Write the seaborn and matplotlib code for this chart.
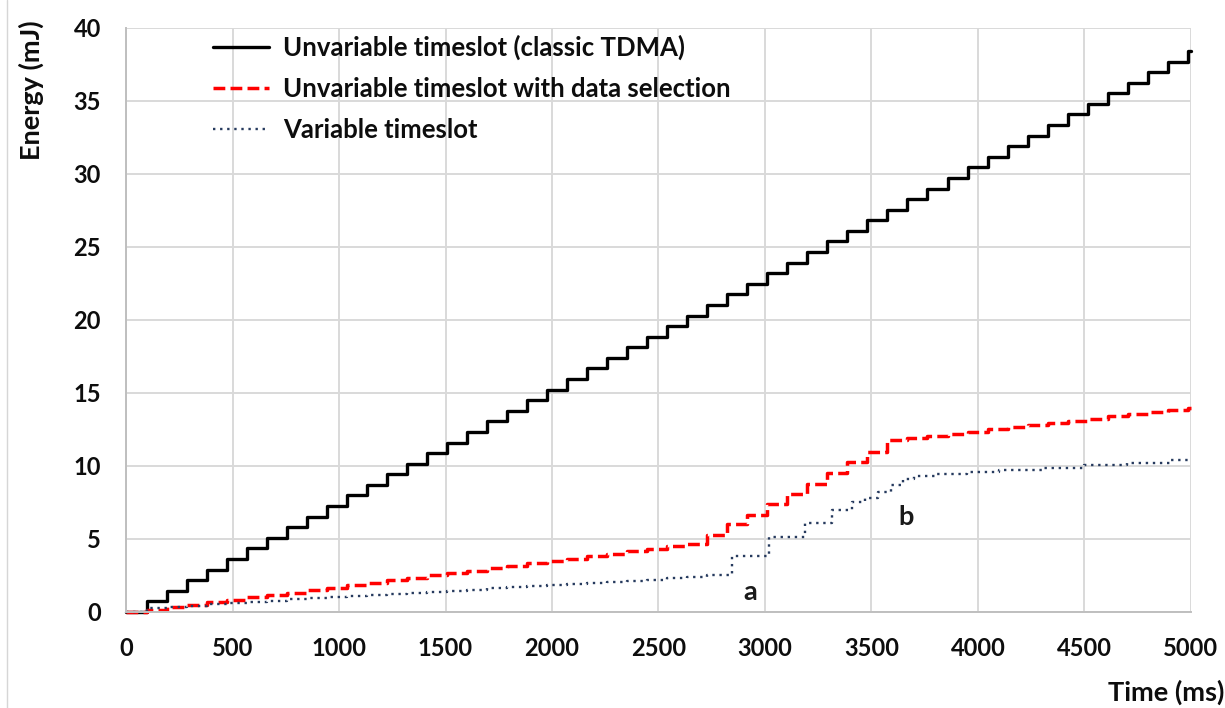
import matplotlib
matplotlib.use("Agg")
import matplotlib.pyplot as plt
import seaborn as sns
from matplotlib.lines import Line2D

# ---------------- data ----------------
slot_times = [0, 97, 191, 285, 379, 473, 567, 661, 755, 849, 943, 1037, 1131, 1225,
              1319, 1413, 1507, 1601, 1695, 1789, 1883, 1977, 2071, 2165, 2259, 2353,
              2447, 2541, 2635, 2729, 2823, 2917, 3011, 3105, 3199, 3293, 3387, 3481,
              3575, 3669, 3763, 3857, 3951, 4045, 4139, 4233, 4327, 4421, 4515, 4609,
              4703, 4797, 4891, 4985, 5000]

classic_energy = [0, 0.72, 1.45, 2.18, 2.90, 3.62, 4.35, 5.08, 5.80, 6.52, 7.25, 7.98,
                  8.70, 9.42, 10.15, 10.88, 11.60, 12.32, 13.05, 13.78, 14.50, 15.22,
                  15.95, 16.68, 17.40, 18.12, 18.85, 19.58, 20.30, 21.02, 21.75, 22.48,
                  23.20, 23.92, 24.65, 25.38, 26.10, 26.82, 27.55, 28.28, 29.00, 29.72,
                  30.45, 31.18, 31.90, 32.62, 33.35, 34.08, 34.80, 35.52, 36.25, 36.98,
                  37.70, 38.42, 38.42]

selection_energy = [0, 0.17, 0.33, 0.50, 0.66, 0.83, 1.00, 1.16, 1.33, 1.50, 1.66, 1.83,
                    2.00, 2.16, 2.33, 2.50, 2.66, 2.83, 3.00, 3.16, 3.33, 3.50, 3.66,
                    3.83, 4.00, 4.16, 4.33, 4.50, 4.66, 5.30, 6.00, 6.65, 7.40, 8.10,
                    8.80, 9.50, 10.25, 10.95, 11.75, 11.90, 12.05, 12.20, 12.35, 12.50,
                    12.65, 12.80, 12.95, 13.10, 13.25, 13.40, 13.55, 13.70, 13.85, 14.00,
                    14.00]

variable_times = [0, 97, 191, 285, 379, 473, 567, 661, 755, 849, 943, 1037, 1131, 1225,
                  1319, 1413, 1507, 1601, 1695, 1789, 1883, 1977, 2071, 2165, 2259, 2353,
                  2447, 2541, 2635, 2729, 2845, 3020, 3190, 3315, 3410, 3470, 3530, 3590,
                  3650, 3700, 3800, 3950, 4100, 4300, 4500, 4700, 4900, 5000]

variable_energy = [0, 0.25, 0.34, 0.43, 0.52, 0.61, 0.70, 0.78, 0.86, 0.94, 1.02, 1.10,
                   1.18, 1.26, 1.33, 1.40, 1.47, 1.54, 1.61, 1.68, 1.75, 1.82, 1.90,
                   1.98, 2.06, 2.14, 2.22, 2.30, 2.40, 2.52, 3.85, 5.13, 6.10, 7.00,
                   7.50, 7.80, 8.20, 8.70, 9.10, 9.30, 9.45, 9.60, 9.70, 9.85, 10.05,
                   10.20, 10.40, 10.45]

series_labels = ["Unvariable timeslot (classic TDMA)",
                 "Unvariable timeslot with data selection",
                 "Variable timeslot"]

x_ticks = list(range(0, 5001, 500))
y_ticks = list(range(0, 41, 5))

# ---------------- style ----------------
sns.set_theme(style="white")
plt.rcParams["font.family"] = ["Lato", "DejaVu Sans"]
plt.rcParams["font.weight"] = "bold"
FS_TICK = 17
FS_LAB = 19.5
FS_LEG = 18.5
TXT = "#0d0d0d"

fig = plt.figure(figsize=(12.25, 7.08), dpi=100)
ax = fig.add_axes([0.1029, 0.1356, 0.8693, 0.8249])

sns.lineplot(x=slot_times, y=classic_energy, ax=ax, color="black", lw=2.4,
             drawstyle="steps-post", label=series_labels[0], clip_on=False)
sns.lineplot(x=slot_times, y=selection_energy, ax=ax, color="#ff0000", lw=2.5,
             drawstyle="steps-post", linestyle=(0, (3.4, 1.5)),
             label=series_labels[1], clip_on=False)
sns.lineplot(x=variable_times, y=variable_energy, ax=ax, color="#263a5e", lw=1.7,
             drawstyle="steps-post", linestyle=(0, (1, 2)),
             label=series_labels[2], clip_on=False)

ax.set_xlim(0, 5000)
ax.set_ylim(0, 40)
ax.set_xticks(x_ticks)
ax.set_yticks(y_ticks)
ax.tick_params(axis="both", length=0, labelsize=FS_TICK, colors=TXT)
ax.tick_params(axis="y", pad=18)
ax.tick_params(axis="x", pad=18)
for lab in ax.get_xticklabels() + ax.get_yticklabels():
    lab.set_fontweight("bold")

ax.grid(True, color="#d9d9d9", lw=1.4)
ax.set_axisbelow(True)
for side in ["top", "right"]:
    ax.spines[side].set_visible(False)
for side in ["left", "bottom"]:
    ax.spines[side].set_color("#bfbfbf")
    ax.spines[side].set_linewidth(1.4)

ax.set_xlabel("Time (ms)", fontsize=FS_LAB, fontweight="bold", color=TXT, loc="right")
ax.xaxis.set_label_coords(1.031, -0.116)
ax.xaxis.label.set_verticalalignment("top")
ax.set_ylabel("Energy (mJ)", fontsize=FS_LAB, fontweight="bold", color=TXT, loc="top")
ax.yaxis.set_label_coords(-0.077, 1.0137)

ax.text(2930, 1.37, "a", fontsize=FS_LAB, fontweight="bold", color="#1a1a1a",
        ha="center", va="center")
ax.text(3662, 6.5, "b", fontsize=FS_LAB, fontweight="bold", color="#1a1a1a",
        ha="center", va="center")

leg = ax.legend(loc="upper left", bbox_to_anchor=(0.082, 0.9885), frameon=False,
                handlelength=2.15, handletextpad=0.55, labelspacing=0.67,
                borderpad=0, borderaxespad=0, fontsize=FS_LEG)
for t in leg.get_texts():
    t.set_fontweight("bold")
    t.set_color(TXT)

fig.add_artist(Line2D([0.006, 0.006], [0, 1], transform=fig.transFigure,
                      color="#d6d6d6", lw=1))

fig.savefig("out.png", dpi=100)
